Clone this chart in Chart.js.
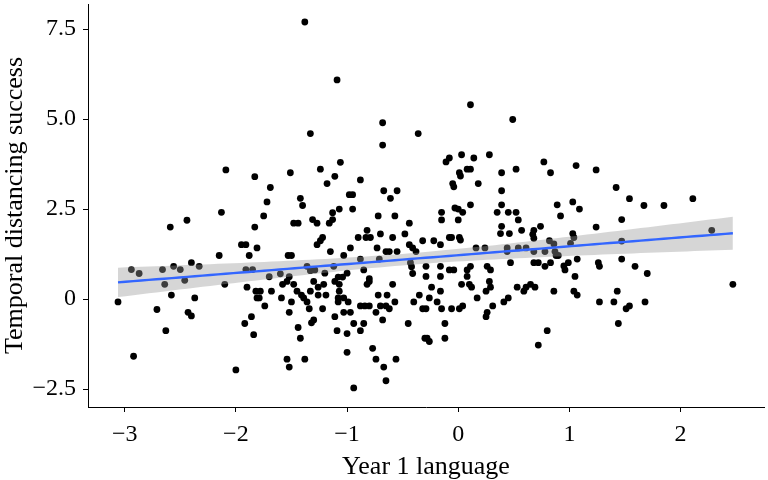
<!DOCTYPE html>
<html lang="en">
<head>
<meta charset="UTF-8">
<title>Year 1 language and temporal distancing success</title>
<script src="https://cdn.jsdelivr.net/npm/chart.js"></script>
<style>
  body { margin: 0; background: #fff; }
</style>
</head>
<body>
<canvas id="chart" width="768" height="480"></canvas>
<script>
// x: Year 1 language, y: Temporal distancing success
const yearOneLanguage = [
  -1.38, -1.09, 0.11, 0.49, -1.33, -0.36, -0.68, -0.68,
  -2.09, -1.83, -2.13, -2.44, -2.59, -1.83, -1.95, -1.91, -1.81, -2.15,
  -1.88, -2.40, -2.33, -2.56, -2.94, -2.87, -2.66, -2.50, -1.91, -1.85, -2.46,
  -2.64, -2.10, -1.90, -1.82, -1.81, -3.06, -2.58, -2.37, -2.71, -2.43,
  -2.40, -2.63, -1.86, -1.92, -1.84, -2.92, -2.00,
  2.47, 1.27, 1.40, 1.43, 1.51, 1.54, 1.68, 1.44,
  1.24, 1.42, 1.54, 1.67, 1.85, 2.11, 1.47, 1.24, 2.28, 1.47, 1.26, 1.27, 1.47, 1.59, 1.70,
  -0.24, -0.16, -0.26, -0.19, -0.29, -0.15, -0.06, 0.01, 0.04, 0.03,
  0.10, 0.12, 0.28, 0.29, 0.25, 0.17, 0.31, 0.26, 0.25, -0.12,
  -0.12, -0.28, -0.26, 0.41, 0.45, 0.53, 0.59, 0.61, 0.65, 0.69,
  0.86, 1.04, 1.07, 0.80, 0.72,
  -1.78, -1.79, -1.74, -1.68, -1.58, -1.54, -1.48, -1.59, -1.50, -1.45,
  -1.41, -1.39, -1.36, -1.33, -1.30, -1.26, -1.21, -1.26, -1.19, -1.34,
  -1.22, -1.52, -1.30, -1.32, -1.44, -1.42, -1.54, -1.52, -1.38, -1.11,
  -1.07, -1.07, -1.08, -1.03, -1.08, -0.99, -1.11, -1.03, -0.97, -1.09,
  -1.00, -0.94, -1.00, -0.94, -0.82, -0.80, -0.88, -0.84, -0.80, -0.85,
  -0.88, -0.77, -0.74, -0.67, -0.65, -0.56, -0.72, -0.64, -0.70, -0.65,
  -0.62, -0.74, -0.68, -0.59, -0.57, -0.45, -0.40, -0.35, -0.32, -0.30,
  -1.51, -1.24, -1.06, -1.11, -1.18, -0.88, -1.69, -1.72, -1.75, -1.42,
  -1.40, -0.98, -0.95, -0.67, -0.55, -0.61, -1.07, -0.95, -1.13, -0.72,
  -0.57, -1.48, -1.44, -1.31, -1.27, -1.16, -1.13, -0.44, -0.82, -0.70,
  -0.48, -0.90, -0.83, -0.79, -0.59, -1.22, -1.24, -1.27, -0.32, -1.15,
  -0.97, -0.73, -0.65, -0.62, -0.55, -0.44, -0.41, -0.38, -1.53, -1.50,
  -1.03, -0.88, -0.71, -0.43, -0.42, -0.41, -1.36, -1.12, -0.85, -1.70,
  -1.60, -1.52, -1.33, -1.29, -1.20, -1.08, -1.04, -1.00, -0.80,
  0.03, -0.08, -0.11, 0.14, 0.28, 0.01, 0.02, 0.08, 0.11, -0.05,
  -0.04, 0.18, 0.39, 0.52, 0.77, 0.83, 1.06, 0.39, 0.11, -0.03,
  0.00, 0.04, -0.15, -0.15, 0.00, 0.39, 0.35, 0.45, 0.52, 0.54,
  0.89, 0.92, 1.03, 1.09, 0.39, 0.46, 0.38, 0.57, 0.74, 0.68,
  0.67, 0.68, 1.03, 1.04, 0.01, 0.02, -0.08, -0.06, -0.22, -0.16,
  0.16, 0.24, 0.44, 0.44, 0.54, 0.61, 0.68, 0.78, 0.87, 0.82,
  0.86, 1.01, 0.88, 0.90, 1.07, 0.47, 0.68, 0.72, 0.78, 0.83,
  0.95, 0.96, 0.99, -0.29, -0.16, -0.08, -0.04, 0.08, 0.11, 0.26,
  0.29, 1.05, -0.29, -0.16, 0.08
];
const temporalDistancing = [
  7.70, 6.09, 5.40, 4.99, 4.60, 4.60, 4.90, 4.28,
  3.59, 3.40, 2.41, 2.19, 2.00, 2.00, 1.51, 1.51, 1.42, 1.21,
  1.21, 1.01, 0.91, 0.91, 0.82, 0.71, 0.82, 0.82, 0.82, 0.82, 0.52,
  0.41, 0.41, 0.33, 0.22, 0.03, -0.08, 0.11, 0.03, -0.29, -0.37,
  -0.47, -0.88, -0.49, -0.68, -0.99, -1.59, -1.97,
  0.41, -0.08, -0.08, 0.22, -0.27, -0.19, -0.08, -0.68,
  3.59, 3.10, 2.79, 2.60, 2.60, 2.79, 2.21, 2.00, 1.91, 1.61, 1.01, 0.91, 1.11, 0.91, 0.71,
  0.33, 0.22, 0.03, -0.08, -0.27, -0.27, -0.27, -0.27, -0.19, 0.41,
  0.41, 0.33, 0.49, 0.33, 0.22, 0.03, -0.19, -0.37, -0.49, -0.68,
  -1.09, -1.09, -1.18, -0.08, 0.03, 0.33, 0.22, 0.33, 0.41, 0.33,
  0.22, 0.22, 0.11, -0.88, -1.28,
  0.22, 0.03, -0.19, 0.22, 0.41, 0.49, 0.41, 0.03, -0.08, 0.22,
  0.11, 0.03, -0.08, 0.22, 0.49, 0.33, 0.41, 0.11, 0.11, -0.27,
  -0.27, -0.37, -0.58, -0.66, -0.79, -1.09, -1.67, -1.89, -1.67, 0.49,
  0.41, 0.22, 0.03, 0.03, -0.08, -0.08, -0.49, -0.37, -0.37, -0.88,
  -0.96, -0.68, -1.48, -2.47, 0.41, 0.49, -0.19, -0.19, -0.19, -0.68,
  -0.88, -1.37, -1.67, -1.89, -2.27, -1.67, 0.11, 0.11, -0.19, -0.19,
  -0.27, -0.37, -0.58, 0.41, -0.08, -0.68, -0.08, 0.11, -0.27, -1.09,
  3.51, 3.61, 3.80, 3.41, 3.21, 3.31, 3.10, 2.70, 2.31, 2.80,
  2.60, 2.90, 2.90, 3.01, 3.01, 2.80, 2.50, 2.50, 2.40, 2.31,
  2.31, 2.11, 2.11, 2.21, 2.11, 2.11, 2.21, 2.11, 1.91, 1.81,
  1.81, 1.71, 1.71, 1.71, 1.71, 1.71, 1.62, 1.51, 1.62, 1.32,
  1.42, 1.42, 1.32, 1.32, 1.32, 1.51, 1.42, 1.32, 1.21, 1.21,
  1.21, 1.11, 1.11, 1.01, 0.90, 0.71, 0.91, 0.91, 0.81, 0.62,
  0.70, 0.62, 0.79, 0.81, 0.72, 0.61, 0.61, 0.72, 0.57,
  4.01, 3.92, 3.81, 3.92, 4.01, 3.51, 3.42, 3.61, 3.61, 3.21,
  3.12, 3.21, 3.51, 3.61, 3.81, 3.51, 3.71, 3.01, 2.62, 2.53,
  2.50, 2.41, 2.41, 2.20, 2.20, 2.62, 2.41, 2.41, 2.41, 2.20,
  2.62, 2.31, 2.70, 2.50, 2.02, 1.82, 1.82, 1.91, 2.02, 1.91,
  1.80, 1.69, 1.82, 1.71, 1.71, 1.64, 1.71, 1.71, 1.62, 1.51,
  1.42, 1.42, 1.42, 1.32, 1.42, 1.42, 1.32, 1.32, 1.32, 1.62,
  1.53, 1.55, 1.21, 1.21, 1.11, 1.01, 1.01, 1.01, 0.91, 1.01,
  0.92, 0.81, 1.01, 0.91, 0.91, 0.81, 0.81, 0.81, 0.91, 0.91,
  0.81, 0.63, 0.63, 0.63, 0.63
];

const xTicks = [-3, -2, -1, 0, 1, 2];
const yTicks = [-2.5, 0, 2.5, 5, 7.5];
const yTickLabels = ['\u22122.5', '0', '2.5', '5.0', '7.5'];

// linear fit with 95% confidence band, like geom_smooth(method = "lm")
const n = yearOneLanguage.length;
const meanX = yearOneLanguage.reduce((a, b) => a + b, 0) / n;
const meanY = temporalDistancing.reduce((a, b) => a + b, 0) / n;
let sxx = 0, sxy = 0;
for (let i = 0; i < n; i++) {
  sxx += (yearOneLanguage[i] - meanX) ** 2;
  sxy += (yearOneLanguage[i] - meanX) * (temporalDistancing[i] - meanY);
}
const slope = sxy / sxx;
const intercept = meanY - slope * meanX;
let sse = 0;
for (let i = 0; i < n; i++) {
  sse += (temporalDistancing[i] - intercept - slope * yearOneLanguage[i]) ** 2;
}
const sigma = Math.sqrt(sse / (n - 2));
const tCrit = 1.967;

const minX = Math.min(...yearOneLanguage);
const maxX = Math.max(...yearOneLanguage);
const fitLine = [], bandUpper = [], bandLower = [];
for (let k = 0; k <= 80; k++) {
  const x = minX + (maxX - minX) * k / 80;
  const yhat = intercept + slope * x;
  const se = sigma * Math.sqrt(1 / n + (x - meanX) ** 2 / sxx);
  fitLine.push({ x: x, y: yhat });
  bandUpper.push({ x: x, y: yhat + tCrit * se });
  bandLower.push({ x: x, y: yhat - tCrit * se });
}

const points = yearOneLanguage.map((x, i) => ({ x: x, y: temporalDistancing[i] }));
const minus = v => String(v).replace('-', '\u2212');

const serif = '"Liberation Serif", "Times New Roman", serif';

new Chart(document.getElementById('chart'), {
  type: 'scatter',
  data: {
    datasets: [
      {
        type: 'line', data: fitLine, borderColor: '#3366FF', borderWidth: 2.4,
        pointRadius: 0, fill: false, order: 0
      },
      {
        type: 'line', data: bandUpper, borderWidth: 0, pointRadius: 0,
        backgroundColor: 'rgba(153,153,153,0.4)', fill: '+1', order: 1
      },
      {
        type: 'line', data: bandLower, borderWidth: 0, pointRadius: 0,
        fill: false, order: 1
      },
      {
        data: points, backgroundColor: '#000', borderWidth: 0,
        pointRadius: 3.4, order: 2
      }
    ]
  },
  options: {
    responsive: false,
    animation: false,
    devicePixelRatio: 1,
    layout: { padding: { top: -4, left: 0, right: 0, bottom: 0 } },
    plugins: { legend: { display: false }, tooltip: { enabled: false } },
    scales: {
      x: {
        type: 'linear', min: -3.33, max: 2.75,
        afterBuildTicks: s => { s.ticks = xTicks.map(v => ({ value: v })); },
        afterFit: s => { s.height = 73; s.paddingLeft = 0; s.paddingRight = 0; },
        grid: { drawOnChartArea: false, color: '#000', tickLength: 5 },
        border: { color: '#000', width: 1 },
        ticks: { color: '#000', padding: 8, font: { family: serif, size: 24 }, callback: v => minus(v) },
        title: { display: true, text: 'Year 1 language', color: '#000', font: { family: serif, size: 26 }, padding: { top: 0, bottom: -3 } }
      },
      y: {
        min: -3.0, max: 8.2,
        afterBuildTicks: s => { s.ticks = yTicks.map(v => ({ value: v })); },
        afterFit: s => { s.width = 88; s.paddingTop = 0; s.paddingBottom = 0; },
        grid: { drawOnChartArea: false, color: '#000', tickLength: 5 },
        border: { color: '#000', width: 1 },
        ticks: { color: '#000', padding: 7, font: { family: serif, size: 24 }, callback: v => yTickLabels[yTicks.indexOf(v)] },
        title: { display: true, text: 'Temporal distancing success', color: '#000', font: { family: serif, size: 26 }, padding: { top: 0, bottom: 0 } }
      }
    }
  }
});
</script>
</body>
</html>
